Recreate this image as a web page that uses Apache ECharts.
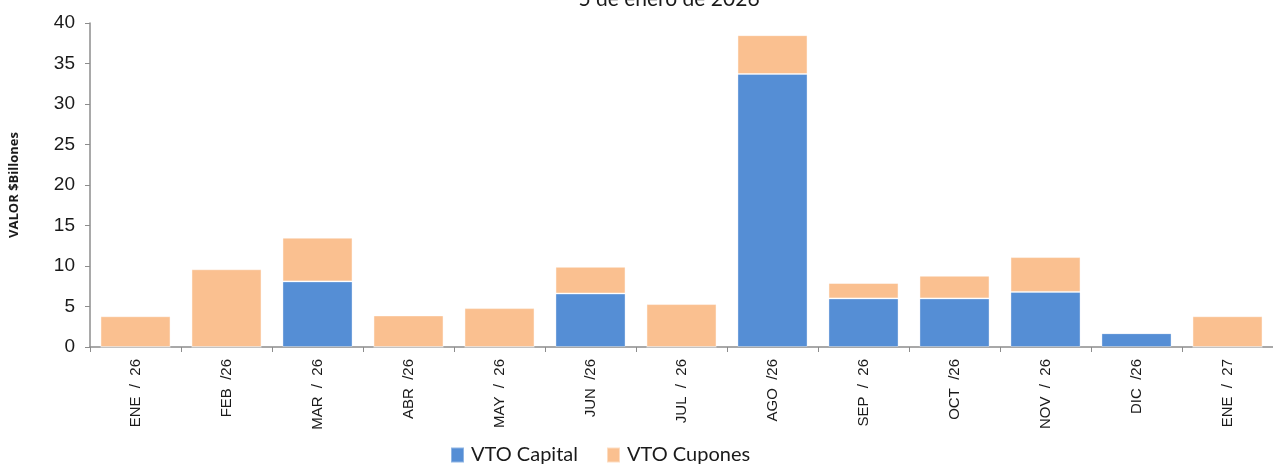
<!DOCTYPE html>
<html>
<head>
<meta charset="utf-8">
<script src="https://cdn.jsdelivr.net/npm/echarts@6/dist/echarts.min.js"></script>
<style>
  html, body { margin: 0; padding: 0; background: #ffffff; }
  #chart { width: 1273px; height: 468px; }
</style>
</head>
<body>
<div id="chart"></div>
<script>
// Vencimientos mensuales (billones de pesos)
const categories = ['ENE  /  26', 'FEB  /26', 'MAR  /  26', 'ABR  /26', 'MAY  /  26', 'JUN  /26', 'JUL  /  26',
                    'AGO  /26', 'SEP  /  26', 'OCT  /26', 'NOV  /  26', 'DIC  /26', 'ENE  /  27'];
const vtoCapital = [0, 0, 8.1, 0, 0, 6.6, 0, 33.7, 6.0, 6.0, 6.8, 1.7, 0];
const vtoCupones = [3.8, 9.6, 5.4, 3.9, 4.8, 3.3, 5.3, 4.8, 1.9, 2.8, 4.3, 0, 3.8];
const yTicks = { min: 0, max: 40, interval: 5 };
const titleText = '5 de enero de 2026';
const yAxisName = 'VALOR $Billones';

const chart = echarts.init(document.getElementById('chart'), null, { renderer: 'canvas' });

const axisGrey = '#8c8c8c';

chart.setOption({
  animation: false,
  backgroundColor: '#ffffff',
  title: {
    text: titleText,
    left: 664,
    textAlign: 'center',
    top: -16,
    textStyle: { fontFamily: 'Lato', fontSize: 21, fontWeight: 'normal', color: '#1a1a1a' }
  },
  legend: {
    top: 440,
    left: 445,
    itemWidth: 13,
    itemHeight: 15,
    itemGap: 28,
    icon: 'rect',
    textStyle: { fontFamily: 'Lato', fontSize: 20, color: '#1a1a1a', padding: [0, 0, 0, 2] },
    data: ['VTO Capital', 'VTO Cupones']
  },
  grid: {
    left: 88,
    top: 23,
    width: 1190,
    height: 324,
    containLabel: false
  },
  xAxis: {
    type: 'category',
    data: categories,
    axisLine: { lineStyle: { color: axisGrey, width: 1.5 } },
    axisTick: { show: true, length: 5, alignWithLabel: false, lineStyle: { color: axisGrey } },
    axisLabel: {
      rotate: 90,
      interval: 0,
      margin: 12,
      fontFamily: 'Liberation Sans',
      fontSize: 15,
      color: '#1a1a1a'
    },
    splitLine: { show: false }
  },
  yAxis: {
    type: 'value',
    min: yTicks.min,
    max: yTicks.max,
    interval: yTicks.interval,
    name: yAxisName,
    nameLocation: 'middle',
    nameRotate: 90,
    nameGap: 69,
    nameTextStyle: { fontFamily: 'Open Sans', fontSize: 13, fontWeight: 'bold', color: '#1a1a1a' },
    axisLine: { show: true, lineStyle: { color: axisGrey, width: 1.5 } },
    axisTick: { show: true, length: 5, lineStyle: { color: axisGrey } },
    axisLabel: {
      margin: 15,
      fontFamily: 'Liberation Sans',
      fontSize: 19,
      color: '#1a1a1a'
    },
    splitLine: { show: false }
  },
  series: [
    {
      name: 'VTO Capital',
      type: 'bar',
      stack: 'vto',
      data: vtoCapital,
      barCategoryGap: '23%',
      itemStyle: { color: '#558ED5', borderColor: 'rgba(255,255,255,0.35)', borderWidth: 1 }
    },
    {
      name: 'VTO Cupones',
      type: 'bar',
      stack: 'vto',
      data: vtoCupones,
      barCategoryGap: '23%',
      itemStyle: { color: '#FAC090', borderColor: 'rgba(255,255,255,0.45)', borderWidth: 1 }
    }
  ]
});
</script>
</body>
</html>
